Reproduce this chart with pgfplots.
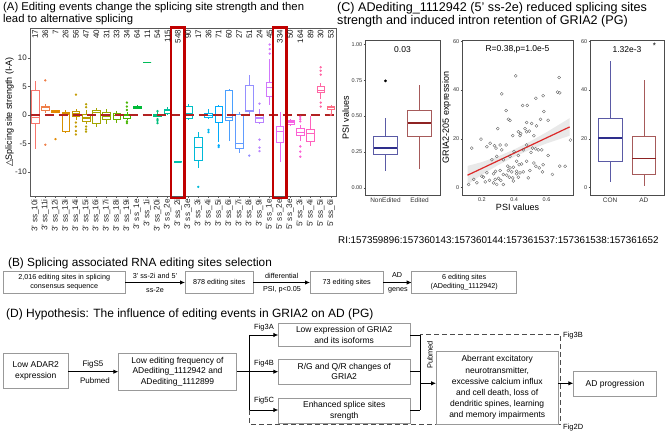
\documentclass[border=0pt]{standalone}
\usepackage{fontspec}
\setmainfont{Liberation Sans}
\newfontfamily\dejavu{DejaVu Sans}
\usepackage{pgfplots}
\pgfplotsset{compat=1.18}
\usepgfplotslibrary{statistics}
\usetikzlibrary{arrows.meta}
\definecolor{c0}{HTML}{F8766D}\definecolor{c1}{HTML}{EF7F49}\definecolor{c2}{HTML}{E38900}
\definecolor{c3}{HTML}{D79000}\definecolor{c4}{HTML}{C49A00}\definecolor{c5}{HTML}{B79F00}
\definecolor{c6}{HTML}{A3A500}\definecolor{c7}{HTML}{8FAA00}\definecolor{c8}{HTML}{6BB100}
\definecolor{c9}{HTML}{45B500}\definecolor{c10}{HTML}{00BA38}\definecolor{c11}{HTML}{00BC59}
\definecolor{c12}{HTML}{00BF7D}\definecolor{c13}{HTML}{00C19C}\definecolor{c14}{HTML}{00C1AE}
\definecolor{c15}{HTML}{00BFC4}\definecolor{c16}{HTML}{00BAD8}\definecolor{c17}{HTML}{00B4EF}
\definecolor{c18}{HTML}{00ABFD}\definecolor{c19}{HTML}{4AA0FF}\definecolor{c20}{HTML}{619CFF}
\definecolor{c21}{HTML}{9590FF}\definecolor{c22}{HTML}{B983FF}\definecolor{c23}{HTML}{D177FC}
\definecolor{c24}{HTML}{E36EF6}\definecolor{c25}{HTML}{F564E3}\definecolor{c26}{HTML}{FC61D4}
\definecolor{c27}{HTML}{FF62BC}\definecolor{c28}{HTML}{FF67A4}\definecolor{c29}{HTML}{FD6F86}
\definecolor{zred}{HTML}{B22222}
\definecolor{boxred}{HTML}{C00000}
\definecolor{cblue}{HTML}{5A5AA5}\definecolor{cbluem}{HTML}{2E2E8C}
\definecolor{cred}{HTML}{A65A5A}\definecolor{credm}{HTML}{8E2323}
\definecolor{fr}{HTML}{999999}
\newcommand{\fs}[2]{\fontsize{#1}{#2}\selectfont}
\newcommand{\bx}[8]{\addplot[draw=#7, line width=0.5pt, fill=white, mark=*, mark size=0.9pt, mark options={fill=#7, draw=#7}, boxplot prepared={draw position=#1, lower whisker=#2, lower quartile=#3, median=#4, upper quartile=#5, upper whisker=#6}] coordinates {#8};}
\pgfplotsset{cstyle/.style={scale only axis, height=155pt, axis line style={gray!60!black, line width=0.4pt},
  tick align=outside, major tick length=1.5pt, tick style={gray!60!black, line width=0.4pt},
  xtick pos=bottom, ytick pos=left, ticklabel style={font=\fs{5.5}{6}, text=gray!40!black, inner sep=1pt},
  label style={font=\fs{9}{10}}, clip=false, boxplot/draw direction=y, boxplot/whisker extend=0, boxplot/box extend=0.7,
  /pgf/number format/assume math mode=true}}
\begin{document}
\begin{tikzpicture}
\useasboundingbox (0,0) rectangle (666pt,441pt);
% ---------------- Panel A
\begin{axis}[at={(30pt,245pt)}, anchor=south west, scale only axis, width=306pt, height=168pt,
 xmin=-0.5, xmax=29.5, ymin=-14.2, ymax=15.3,
 xtick={0,...,29}, ytick={-10,-5,0,5,10},
 xticklabels={3' ss\_10i, 3' ss\_11i, 3' ss\_12i, 3' ss\_13i, 3' ss\_14i, 3' ss\_15i, 3' ss\_16i, 3' ss\_17i, 3' ss\_18i, 3' ss\_19i, 3' ss\_1e, 3' ss\_1i, 3' ss\_20i, 3' ss\_2e, 3' ss\_2i, 3' ss\_3e, 3' ss\_3i, 3' ss\_4i, 3' ss\_5i, 3' ss\_6i, 3' ss\_7i, 3' ss\_8i, 3' ss\_9i, 5' ss\_1e, 5' ss\_2e, 5' ss\_3e, 5' ss\_3i, 5' ss\_4i, 5' ss\_5i, 5' ss\_6i},
 tick align=outside, major tick length=2pt, xtick pos=bottom, ytick pos=left,
 axis line style={gray!70!black, line width=0.5pt}, tick style={gray!70!black, line width=0.5pt},
 x tick label style={rotate=90, anchor=east, font=\fs{8.2}{9}, text=gray!30!black, inner sep=1pt},
 y tick label style={font=\fs{8}{9}, text=gray!30!black, inner sep=1pt},
 /pgf/number format/assume math mode=true,
 ylabel={{\dejavu △}Splicing site strength (I-A)}, ylabel style={font=\fs{9}{10}, yshift=-3pt},
 clip=false, boxplot/draw direction=y, boxplot/every median/.style={line width=1.1pt},
 boxplot/box extend=0.75, boxplot/whisker extend=0]
\bx{0}{-6.0}{-1.5}{-0.4}{4.3}{6.0}{c0}{}
\bx{1}{0.3}{0.9}{1.3}{1.6}{1.9}{c1}{(0,6.1) (0,-5.2)}
\bx{2}{0.4}{0.55}{0.7}{0.85}{0.9}{c2}{(0,-4.2)}
\bx{3}{-3.2}{-2.8}{0.2}{0.5}{0.9}{c3}{}
\bx{4}{-0.9}{-0.2}{0.2}{0.6}{1.0}{c4}{(0,3.6) (0,-1.3) (0,-2.0) (0,-2.8) (0,-3.4)}
\bx{5}{-1.6}{-1.0}{-0.5}{0.2}{0.9}{c5}{(0,1.9) (0,1.4) (0,-2.0) (0,-2.5) (0,-2.9)}
\bx{6}{-2.0}{-1.4}{0.4}{0.9}{1.2}{c6}{}
\bx{7}{-1.5}{-0.8}{-0.2}{0.5}{1.0}{c7}{}
\bx{8}{-1.3}{-0.7}{-0.1}{0.4}{0.8}{c8}{}
\bx{9}{-0.9}{-0.5}{-0.1}{0.2}{0.6}{c9}{(0,2.2) (0,1.5) (0,0.9) (0,-1.1) (0,-1.4)}
\bx{10}{1.1}{1.25}{1.4}{1.55}{1.7}{c10}{}
\bx{11}{9.2}{9.2}{9.2}{9.2}{9.2}{c11}{}
\bx{12}{-0.4}{-0.15}{0.0}{0.15}{0.5}{c12}{(0,0.7) (0,-0.7) (0,-1.0) (0,-1.4)}
\bx{13}{0.0}{0.3}{0.8}{1.0}{1.5}{c13}{}
\bx{14}{-8.2}{-8.2}{-8.2}{-8.2}{-8.2}{c14}{}
\bx{15}{-0.9}{-0.5}{0.2}{1.5}{2.0}{c15}{}
\bx{16}{-9.3}{-7.9}{-5.7}{-3.8}{-2.9}{c16}{(0,-12.6)}
\bx{17}{-0.7}{-0.4}{0.0}{0.3}{1.0}{c17}{(0,-2.6) (0,-3.0)}
\bx{18}{-4.8}{-1.2}{0.1}{1.5}{1.8}{c18}{(0,-5.3) (0,-5.6)}
\bx{19}{-4.5}{-0.9}{-0.4}{4.3}{4.6}{c19}{}
\bx{20}{-6.7}{-5.9}{-5.0}{0.2}{0.5}{c20}{}
\bx{21}{-0.2}{0.6}{0.8}{5.3}{7.0}{c21}{(0,-7.1)}
\bx{22}{-1.6}{-1.2}{-0.5}{-0.1}{1.0}{c22}{(0,2.0) (0,-4.3) (0,-5.7) (0,-6.3)}
\bx{23}{1.7}{3.3}{4.9}{5.8}{9.8}{c23}{(0,10.8) (0,11.6) (0,12.4)}
\bx{24}{-8.3}{-4.7}{-2.9}{-2.0}{0.6}{c24}{}
\bx{25}{-1.9}{-1.6}{-1.2}{-0.9}{-0.7}{c25}{}
\bx{26}{-4.5}{-3.6}{-3.0}{-2.3}{-1.7}{c26}{(0,-0.3) (0,-0.7) (0,-1.1) (0,-5.5) (0,-6.4) (0,-7.3)}
\bx{27}{-5.5}{-4.5}{-3.3}{-2.4}{-0.2}{c27}{}
\bx{28}{2.8}{4.1}{4.4}{5.0}{5.6}{c28}{(0,8.4) (0,7.8) (0,7.1) (0,2.2) (0,1.5)}
\bx{29}{0.2}{1.0}{1.3}{1.5}{1.8}{c29}{(0,0.05)}
\addplot[zred, line width=2.2pt, dash pattern=on 9pt off 5pt] coordinates {(-0.45,0) (29.45,0)};
\addplot[draw=none, nodes near coords, point meta=explicit symbolic,
  nodes near coords style={rotate=90, anchor=east, font=\fs{8}{9}, inner sep=0pt, text=gray!20!black}]
  table[meta=c, row sep=\\] {x y c\\ 0 15 17\\ 1 15 36\\ 2 15 7\\ 3 15 26\\ 4 15 56\\ 5 15 47\\ 6 15 40\\ 7 15 31\\ 8 15 33\\ 9 15 34\\ 10 15 64\\ 11 15 11\\ 12 15 54\\ 13 15 115\\ 14 15 548\\ 15 15 90\\ 16 15 17\\ 17 15 36\\ 18 15 71\\ 19 15 60\\ 20 15 27\\ 21 15 51\\ 22 15 24\\ 23 15 45\\ 24 15 334\\ 25 15 50\\ 26 15 164\\ 27 15 89\\ 28 15 30\\ 29 15 53\\};
\draw[boxred, line width=2.2pt] (axis cs:13.36,-14.6) rectangle (axis cs:14.64,15.4);
\draw[boxred, line width=2.2pt] (axis cs:23.36,-14.6) rectangle (axis cs:24.64,15.4);
\end{axis}
% ---------------- Panel C1
\begin{axis}[cstyle, at={(365pt,246pt)}, anchor=south west, width=75pt,
 xmin=0.4, xmax=2.6, ymin=-0.05, ymax=1.03, xtick={1,2}, xticklabels={NonEdited,Edited},
 x tick label style={font=\fs{6.5}{7}},
 ytick={0,0.25,0.5,0.75,1}, yticklabel style={/pgf/number format/.cd, fixed, fixed zerofill, precision=2},
 ylabel={PSI values}, ylabel style={yshift=-2pt}]
\addplot[draw=cblue, line width=0.6pt, fill=white, mark=*, mark size=1.1pt, mark options={fill=black,draw=black},
 boxplot prepared={draw position=1, lower whisker=0.115, lower quartile=0.236, median=0.278, upper quartile=0.36, upper whisker=0.486, every median/.style={draw=cbluem, line width=1.4pt}}] coordinates {(0,0.745)};
\addplot[draw=cred, line width=0.6pt, fill=white, mark=*, mark size=1.1pt, mark options={fill=black,draw=black},
 boxplot prepared={draw position=2, lower whisker=0.132, lower quartile=0.356, median=0.451, upper quartile=0.537, upper whisker=0.715, every median/.style={draw=credm, line width=1.4pt}}] coordinates {};
\node[font=\fs{8.5}{9}] at (rel axis cs:0.5,0.94) {0.03};
\end{axis}
% ---------------- Panel C2
\begin{axis}[cstyle, at={(462pt,246pt)}, anchor=south west, width=111pt,
 xmin=0.077, xmax=0.764, ymin=-3, ymax=60.5, xtick={0.2,0.4,0.6}, ytick={0,20,40,60},
 xlabel={PSI values}, ylabel={GRIA2-205 expression}, xlabel style={yshift=2pt}, ylabel style={yshift=-2pt}]
\addplot[draw=none, fill=gray!22, fill opacity=0.8] coordinates {(0.111,8.9) (0.2,10.49) (0.3,12.82) (0.4,15.65) (0.5,18.98) (0.6,22.71) (0.7,26.74) (0.743,28.48) (0.743,21.28) (0.7,20.34) (0.6,18.11) (0.5,15.58) (0.4,12.65) (0.3,9.22) (0.2,5.29) (0.111,1.3)} -- cycle;
\addplot[only marks, mark=o, mark size=1.5pt, gray!75!black, mark options={line width=0.35pt}] coordinates {
(0.409,45.8) (0.678,45.1) (0.323,38.4) (0.668,39.1) (0.682,38.8) (0.534,36.6) (0.579,37.7) (0.452,33.7) (0.481,33.7) (0.350,31.6) (0.584,31.2) (0.364,28.0) (0.374,27.6) (0.563,28.0) (0.610,27.6) (0.477,26.7) (0.508,26.3) (0.538,25.3) (0.298,24.2) (0.467,24.2) (0.426,22.9) (0.440,22.2) (0.477,22.9) (0.493,23.2) (0.436,21.3) (0.522,21.3) (0.391,21.3) (0.194,19.9) (0.251,18.2) (0.278,17.2) (0.313,17.5) (0.350,17.5) (0.231,16.8) (0.288,16.2) (0.138,16.2) (0.477,17.5) (0.514,16.2) (0.534,15.9) (0.549,15.5) (0.571,15.5) (0.456,15.5) (0.504,14.5) (0.610,13.2) (0.292,12.8) (0.374,12.8) (0.426,13.2) (0.262,11.4) (0.333,11.4) (0.415,10.8) (0.477,10.8) (0.522,10.1) (0.430,9.4) (0.446,9.7) (0.360,8.8) (0.374,8.1) (0.395,8.4) (0.534,8.8) (0.555,8.1) (0.284,6.7) (0.313,7.0) (0.364,7.0) (0.385,6.5) (0.415,6.7) (0.456,6.5) (0.497,7.0) (0.682,8.8) (0.715,8.8) (0.748,19.5) (0.231,6.1) (0.272,5.7) (0.333,5.4) (0.354,5.1) (0.415,5.7) (0.436,6.1) (0.370,4.3) (0.391,4.0) (0.282,3.4) (0.303,3.8) (0.247,3.0) (0.221,2.4) (0.169,2.0) (0.272,2.0) (0.292,1.3) (0.333,1.3) (0.395,2.7) (0.200,4.7) (0.118,1.3) (0.149,3.4) (0.210,4.3) (0.487,4.0) (0.317,3.0) (0.426,4.3) (0.575,6.5) (0.637,5.4) (0.579,9.4) (0.323,15.5) (0.399,14.8)};
\addplot[color={rgb,255:red,220;green,40;blue,40}, line width=1.2pt] coordinates {(0.111,5.1) (0.743,24.88)};
\node[font=\fs{8.5}{9}] at (rel axis cs:0.5,0.94) {R=0.38,p=1.0e-5};
\end{axis}
% ---------------- Panel C3
\begin{axis}[cstyle, at={(590pt,246pt)}, anchor=south west, width=74pt,
 xmin=0.4, xmax=2.6, ymin=-3, ymax=60.5, xtick={1,2}, xticklabels={CON,AD}, ytick={0,20,40,60},
 x tick label style={font=\fs{6.5}{7}}]
\addplot[draw=cblue, line width=0.6pt, fill=white,
 boxplot prepared={draw position=1, lower whisker=2.4, lower quartile=10.9, median=20.4, upper quartile=28.5, upper whisker=52, every median/.style={draw=cbluem, line width=1.4pt}}] coordinates {};
\addplot[draw=cred, line width=0.6pt, fill=white,
 boxplot prepared={draw position=2, lower whisker=0.7, lower quartile=5.4, median=11.9, upper quartile=21.1, upper whisker=44.2, every median/.style={draw=credm, line width=1.4pt}}] coordinates {};
\node[font=\fs{8.5}{9}] at (rel axis cs:0.5,0.935) {1.32e-3};
\node[font=\fs{8}{9}] at (rel axis cs:0.87,0.965) {*};
\end{axis}
% ---------------- texts and flow charts (pixel coordinates, y downwards)
\begin{scope}[yshift=441pt, x=1pt, y=-1pt]
\node[anchor=north west, align=left, inner sep=0, font=\fs{11.3}{12.6}] at (3,2) {(A) Editing events change the splicing site strength and then\\lead to alternative splicing};
\node[anchor=north west, align=left, inner sep=0, font=\fs{12.6}{12.8}] at (337,2) {(C) ADediting\_1112942 (5' ss-2e) reduced splicing sites\\strength and induced intron retention of GRIA2 (PG)};
\node[anchor=west, inner sep=0, font=\fs{9.8}{11}] at (338,240) {RI:157359896:157360143:157360144:157361537:157361538:157361652};
\node[anchor=west, inner sep=0, font=\fs{11.8}{12}] at (8,263) {(B) Splicing associated RNA editing sites selection};
\node[anchor=west, inner sep=0, font=\fs{12}{13}] at (6,314) {(D) Hypothesis: The influence of editing events in GRIA2 on AD (PG)};
% B
\tikzset{bb/.style={draw=fr, line width=0.5pt}, ar/.style={-{Latex[length=5pt,width=4.5pt]}, line width=0.9pt}}
\draw[bb] (3.3,271.7) rectangle (125,293.3);
\node[font=\fs{7.2}{8.8}, align=center] at (64.2,282.5) {2,016 editing sites in splicing\\consensus sequence};
\draw[ar] (125,282.5) -- (185,282.5);
\node[font=\fs{7.2}{8}] at (155,275.5) {3' ss-2i and 5'};
\node[font=\fs{7.2}{8}] at (155,290) {ss-2e};
\draw[bb] (185,271.7) rectangle (253.3,293.3);
\node[font=\fs{7.2}{8}] at (219.2,282.5) {878 editing sites};
\draw[ar] (253.3,282.5) -- (310,282.5);
\node[font=\fs{7.2}{8}] at (281.7,275.5) {differential};
\node[font=\fs{7.2}{8}] at (282,290) {PSI, p<0.05};
\draw[bb] (310,271.7) rectangle (383.3,293.3);
\node[font=\fs{7.2}{8}] at (346.7,282.5) {73 editing sites};
\draw[ar] (383.3,282.5) -- (411.7,282.5);
\node[font=\fs{7.2}{8}] at (397,275.5) {AD};
\node[font=\fs{7.2}{8}] at (398,290) {genes};
\draw[bb] (411.7,271.7) rectangle (516.7,293.3);
\node[font=\fs{7.2}{8.8}, align=center] at (464.2,282.5) {6 editing sites\\(ADediting\_1112942)};
% D
\draw[bb] (3.3,353.3) rectangle (68.3,388.3);
\node[font=\fs{8.5}{10.5}, align=center] at (35.8,370.8) {Low ADAR2\\expression};
\draw[ar] (68.3,371.7) -- (118.3,371.7);
\node[font=\fs{8}{9}] at (93,364) {FigS5};
\node[font=\fs{8}{9}] at (95,381) {Pubmed};
\draw[bb] (118.3,353.3) rectangle (236.7,390);
\node[font=\fs{8.5}{10.5}, align=center] at (177.5,371.7) {Low editing frequency of\\ADediting\_1112942 and\\ADediting\_1112899};
\draw[line width=0.9pt] (236.7,371.7) -- (249.3,371.7);
\draw[line width=0.9pt] (249.3,335) -- (249.3,410);
\draw[ar] (249.3,335) -- (278.3,335);
\draw[ar] (249.3,371.7) -- (278.3,371.7);
\draw[ar] (249.3,410) -- (278.3,410);
\node[font=\fs{7.5}{8}] at (264,327.5) {Fig3A};
\node[font=\fs{7.5}{8}] at (264,363.5) {Fig4B};
\node[font=\fs{7.5}{8}] at (264,401) {Fig5C};
\draw[bb] (278.3,323.3) rectangle (410,346.7);
\node[font=\fs{8.5}{10.5}, align=center] at (344.2,335) {Low expression of GRIA2\\and its isoforms};
\draw[bb] (278.3,359.3) rectangle (410,384);
\node[font=\fs{8.5}{10.5}, align=center] at (344.2,371.7) {R/G and Q/R changes of\\GRIA2};
\draw[bb] (278.3,398.3) rectangle (410,423.3);
\node[font=\fs{8.5}{10.5}, align=center] at (344.2,410.8) {Enhanced splice sites\\srength};
\draw[line width=0.9pt] (410,335) -- (420,335) (410,371.7) -- (420,371.7) (410,410) -- (420,410) (420,334.5) -- (420,410.5);
\draw[ar] (420,383.3) -- (436,383.3);
\node[font=\fs{7.5}{8}, rotate=90] at (430,355) {Pubmed};
\draw[gray!60!black, line width=0.8pt, dash pattern=on 5pt off 3pt] (249.3,410) -- (249.3,424) -- (560,424) -- (560,334) -- (420,334);
\draw[bb] (436,351.7) rectangle (558.3,424);
\node[font=\fs{8.5}{11.2}, align=center] at (497.2,387.8) {Aberrant excitatory\\neurotransmitter,\\excessive calcium influx\\and cell death, loss of\\dendritic spines, learning\\and memory impairments};
\draw[ar] (558.3,383.3) -- (573.3,383.3);
\draw[bb] (573.3,371.7) rectangle (656.7,396.7);
\node[font=\fs{8.5}{10}] at (615,384.2) {AD progression};
\node[font=\fs{7.5}{8}, anchor=west, inner sep=0] at (563,336) {Fig3B};
\node[font=\fs{7.5}{8}, anchor=west, inner sep=0] at (563,428) {Fig2D};
\end{scope}
\end{tikzpicture}
\end{document}
